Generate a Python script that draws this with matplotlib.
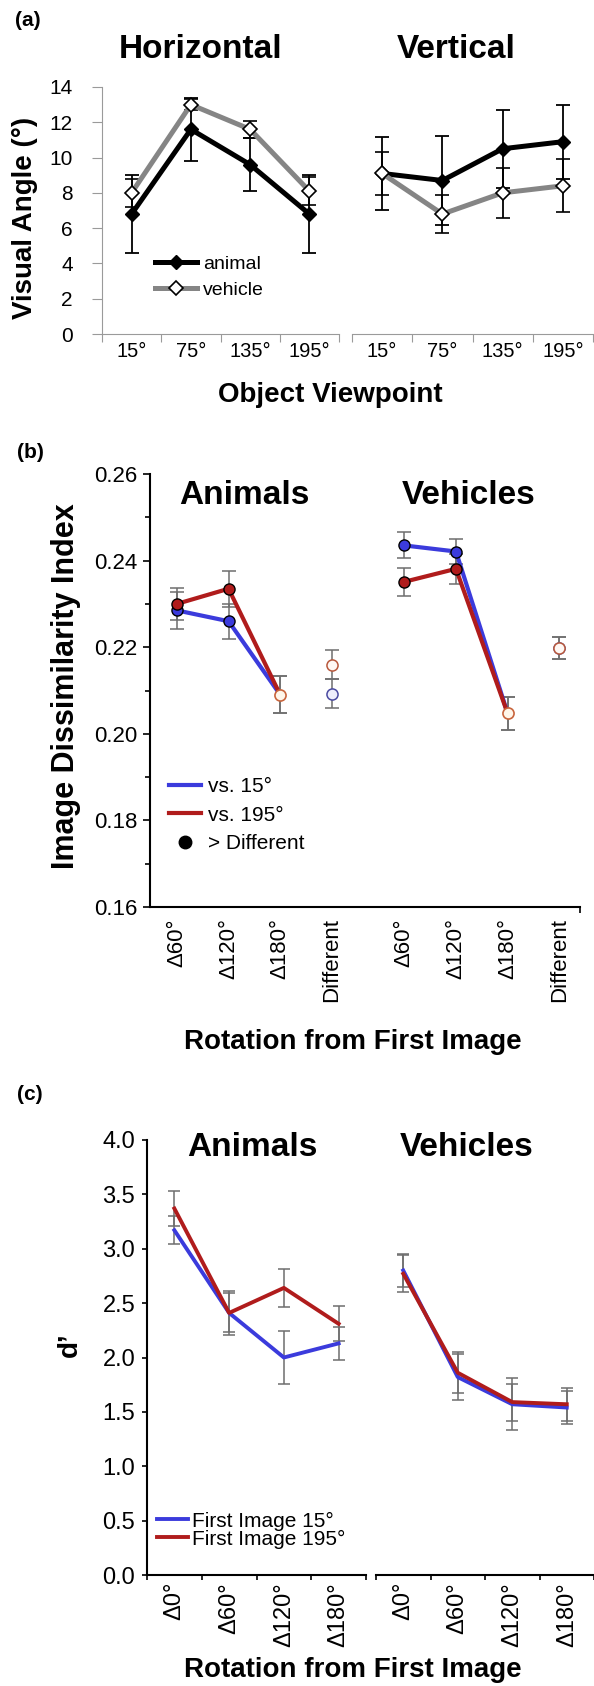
import numpy as np
import matplotlib
matplotlib.use('Agg')
import matplotlib.pyplot as plt
from matplotlib.lines import Line2D

plt.rcParams['font.family'] = ['Liberation Sans', 'DejaVu Sans']

# ---- data, panel (a): visual angle by viewpoint
viewpoints = ['15°', '75°', '135°', '195°']
horiz_animal = [6.8, 11.6, 9.6, 6.8]
horiz_animal_err = [2.2, 1.8, 1.5, 2.2]
horiz_vehicle = [8.0, 13.0, 11.6, 8.1]
horiz_vehicle_err = [0.8, 0.3, 0.5, 0.8]
vert_animal = [9.1, 8.7, 10.5, 10.9]
vert_animal_err = [2.05, 2.5, 2.2, 2.1]
vert_vehicle = [9.1, 6.8, 8.0, 8.4]
vert_vehicle_err = [1.2, 1.1, 1.4, 1.5]

# ---- data, panel (b): image dissimilarity index
b_labels = ['Δ60°', 'Δ120°', 'Δ180°', 'Different']
anim_vs15 = [0.2285, 0.226, 0.209, 0.2093]
anim_vs15_err = [0.0043, 0.004, 0.0043, 0.0033]
anim_vs195 = [0.230, 0.2335, 0.209, 0.216]
anim_vs195_err = [0.0037, 0.0042, 0.0043, 0.0034]
veh_vs15 = [0.2435, 0.2421, 0.2047, 0.2198]
veh_vs15_err = [0.003, 0.003, 0.0038, 0.0025]
veh_vs195 = [0.2351, 0.2381, 0.2047, 0.2198]
veh_vs195_err = [0.0033, 0.0034, 0.0038, 0.0025]

# ---- data, panel (c): d'
c_labels = ['Δ0°', 'Δ60°', 'Δ120°', 'Δ180°']
anim_first15 = [3.17, 2.41, 2.00, 2.13]
anim_first15_err = [0.13, 0.18, 0.24, 0.15]
anim_first195 = [3.37, 2.41, 2.64, 2.31]
anim_first195_err = [0.16, 0.20, 0.175, 0.16]
veh_first15 = [2.80, 1.82, 1.57, 1.54]
veh_first15_err = [0.15, 0.21, 0.24, 0.15]
veh_first195 = [2.77, 1.86, 1.59, 1.57]
veh_first195_err = [0.17, 0.19, 0.17, 0.15]

W, H = 594, 1686
BLUE = '#3b3bdc'
RED = '#b01c1c'
EGRAY = '#6e6e6e'
VGRAY = '#858585'

fig = plt.figure(figsize=(W / 100, H / 100), dpi=100)


def rect(x0, x1, ytop, ybot):
    return [x0 / W, 1 - ybot / H, (x1 - x0) / W, (ybot - ytop) / H]


def ftext(x, y, s, **kw):
    fig.text(x / W, 1 - y / H, s, **kw)


def boundary_ticks(ax, labels, size, pad, length):
    n = len(labels)
    ax.set_xlim(-0.5, n - 0.5)
    ax.set_xticks(np.arange(n + 1) - 0.5)
    ax.set_xticklabels([])
    ax.set_xticks(np.arange(n), minor=True)
    ax.set_xticklabels(labels, minor=True, fontsize=size)
    ax.tick_params(axis='x', which='major', direction='out', length=length)
    ax.tick_params(axis='x', which='minor', length=0, pad=pad)


# ================= panel (a)
axa1 = fig.add_axes(rect(102, 339, 87, 334))
axa2 = fig.add_axes(rect(352, 593, 87, 334), sharey=axa1)
xa = np.arange(len(viewpoints))
for ax, an, ane, ve, vee in [(axa1, horiz_animal, horiz_animal_err, horiz_vehicle, horiz_vehicle_err),
                             (axa2, vert_animal, vert_animal_err, vert_vehicle, vert_vehicle_err)]:
    ax.errorbar(xa, an, yerr=ane, color='black', lw=3.6, marker='D', ms=7.5,
                mfc='black', mec='black', ecolor='black', elinewidth=1.3, capsize=5, capthick=1.3,
                zorder=3)
    ax.errorbar(xa, ve, yerr=vee, color=VGRAY, lw=3.6, marker='D', ms=7.5,
                mfc='white', mec='black', mew=1.2, ecolor='black', elinewidth=1.3, capsize=5,
                capthick=1.3, zorder=4)
    boundary_ticks(ax, viewpoints, 14.5, 6, 6)
    for s in ['top', 'right']:
        ax.spines[s].set_visible(False)
    for s in ['left', 'bottom']:
        ax.spines[s].set_color('#9a9a9a')
    ax.tick_params(colors='#9a9a9a', labelcolor='black')
axa1.set_ylim(0, 14)
axa1.set_yticks(np.arange(0, 15, 2))
axa1.tick_params(axis='y', labelsize=15, length=7, pad=14)
axa2.spines['left'].set_visible(False)
axa2.tick_params(axis='y', left=False, labelleft=False)
ha = [Line2D([], [], color='black', lw=3.6, marker='D', ms=7.5, mfc='black', mec='black'),
      Line2D([], [], color=VGRAY, lw=3.6, marker='D', ms=7.5, mfc='white', mec='black', mew=1.2)]
axa1.legend(ha, ['animal', 'vehicle'], loc='center left', bbox_to_anchor=(0.222, 0.23),
            frameon=False, fontsize=14, handlelength=2.2, handletextpad=0.3, labelspacing=0.45,
            borderpad=0, borderaxespad=0)

ftext(15, 20, '(a)', fontsize=15, fontweight='bold', va='center', ha='left')
ftext(201, 50, 'Horizontal', fontsize=24, fontweight='bold', va='center', ha='center')
ftext(456, 50, 'Vertical', fontsize=24, fontweight='bold', va='center', ha='center')
ftext(25, 218, 'Visual Angle (°)', fontsize=20, fontweight='bold', va='center', ha='center',
      rotation=90)
ftext(330, 395, 'Object Viewpoint', fontsize=20, fontweight='bold', va='center', ha='center')

# ================= panel (b)
axb = fig.add_axes(rect(150, 580, 474, 907))
xb_anim = np.arange(len(b_labels))
xb_veh = xb_anim + 4.4
for xs, v15, e15, v195, e195 in [(xb_anim, anim_vs15, anim_vs15_err, anim_vs195, anim_vs195_err),
                                 (xb_veh, veh_vs15, veh_vs15_err, veh_vs195, veh_vs195_err)]:
    for vals, errs, col in [(v15, e15, BLUE), (v195, e195, RED)]:
        axb.errorbar(xs, vals, yerr=errs, fmt='none', ecolor=EGRAY, elinewidth=1.1,
                     capsize=5, capthick=1.1, zorder=2)
        axb.plot(xs[:3], vals[:3], color=col, lw=3, zorder=3)
        axb.plot(xs[:2], vals[:2], 'o', ms=8, mfc=col, mec='black', mew=1, zorder=5)
    axb.plot(xs[2], v195[2], 'o', ms=8, mfc='#fff6ea', mec='#c8643c', mew=1.2, zorder=5)
    axb.plot(xs[3], v15[3], 'o', ms=8, mfc='#eeeefc', mec='#4a4aa0', mew=1.1, zorder=5)
    axb.plot(xs[3], v195[3], 'o', ms=8, mfc='#fff8f4', mec='#b8583c', mew=1.1, zorder=6)
axb.set_xlim(-0.52, 7.8)
axb.set_ylim(0.16, 0.26)
axb.set_yticks(np.arange(0.16, 0.2601, 0.02))
axb.set_yticklabels(['%.2f' % v for v in np.arange(0.16, 0.2601, 0.02)])
axb.set_yticks(np.arange(0.17, 0.26, 0.02), minor=True)
axb.tick_params(axis='y', which='major', labelsize=16, length=5, pad=4, width=1.2)
axb.tick_params(axis='y', which='minor', length=3.5, width=1.2)
axb.set_xticks(np.concatenate([xb_anim, xb_veh]))
axb.set_xticklabels(b_labels + b_labels, rotation=90, fontsize=16, va='top')
axb.tick_params(axis='x', which='major', length=0, pad=8)
axb.set_xticks([7.8], minor=True)
axb.tick_params(axis='x', which='minor', length=4, width=1.2)
for s in ['top', 'right']:
    axb.spines[s].set_visible(False)
for s in ['left', 'bottom']:
    axb.spines[s].set_linewidth(1.5)
hb = [Line2D([], [], color=BLUE, lw=3), Line2D([], [], color=RED, lw=3),
      Line2D([], [], ls='none', marker='o', ms=9, color='black')]
axb.legend(hb, ['vs. 15°', 'vs. 195°', '> Different'], loc='center left',
           bbox_to_anchor=(0.045, 0.212), frameon=False, fontsize=15, handlelength=1.5,
           handletextpad=0.35, labelspacing=0.45, borderpad=0, borderaxespad=0)

ftext(17, 452, '(b)', fontsize=15, fontweight='bold', va='center', ha='left')
ftext(244, 495, 'Animals', fontsize=24, fontweight='bold', va='center', ha='center')
ftext(469, 495, 'Vehicles', fontsize=24, fontweight='bold', va='center', ha='center')
ftext(66, 686, 'Image Dissimilarity Index', fontsize=22, fontweight='bold', va='center',
      ha='center', rotation=90)
ftext(353, 1042, 'Rotation from First Image', fontsize=20, fontweight='bold', va='center',
      ha='center')

# ================= panel (c)
axc1 = fig.add_axes(rect(147, 366, 1140, 1575))
axc2 = fig.add_axes(rect(376, 594, 1140, 1575), sharey=axc1)
xc = np.arange(len(c_labels))
for ax, v15, e15, v195, e195 in [(axc1, anim_first15, anim_first15_err, anim_first195, anim_first195_err),
                                 (axc2, veh_first15, veh_first15_err, veh_first195, veh_first195_err)]:
    ax.errorbar(xc, v15, yerr=e15, fmt='none', ecolor=EGRAY, elinewidth=1.1, capsize=4.5,
                capthick=1.1, zorder=2)
    ax.errorbar(xc, v195, yerr=e195, fmt='none', ecolor=EGRAY, elinewidth=1.1, capsize=4.5,
                capthick=1.1, zorder=2)
    ax.plot(xc, v15, color=BLUE, lw=2.8, label='First Image 15°', zorder=3)
    ax.plot(xc, v195, color=RED, lw=2.8, label='First Image 195°', zorder=4)
    boundary_ticks(ax, c_labels, 17, 5, 3.5)
    for lab in ax.get_xticklabels(minor=True):
        lab.set_rotation(90)
        lab.set_va('top')
    for s in ['top', 'right']:
        ax.spines[s].set_visible(False)
    for s in ['left', 'bottom']:
        ax.spines[s].set_linewidth(1.5)
    ax.tick_params(width=1.2)
axc1.set_ylim(0, 4)
axc1.set_yticks(np.arange(0, 4.01, 0.5))
axc1.set_yticklabels(['%.1f' % v for v in np.arange(0, 4.01, 0.5)])
axc1.tick_params(axis='y', labelsize=17, length=3.5, pad=5)
axc2.spines['left'].set_visible(False)
axc2.tick_params(axis='y', left=False, labelleft=False)
axc1.legend(loc='center left', bbox_to_anchor=(0.045, 0.103), frameon=False, fontsize=15,
            handlelength=1.5, handletextpad=0.2, labelspacing=-0.05, borderpad=0,
            borderaxespad=0)

ftext(17, 1095, '(c)', fontsize=15, fontweight='bold', va='center', ha='left')
ftext(252, 1148, 'Animals', fontsize=24, fontweight='bold', va='center', ha='center')
ftext(467, 1148, 'Vehicles', fontsize=24, fontweight='bold', va='center', ha='center')
ftext(70, 1345, 'd’', fontsize=20, fontweight='bold', va='center', ha='center', rotation=90)
ftext(353, 1670, 'Rotation from First Image', fontsize=20, fontweight='bold', va='center',
      ha='center')

fig.savefig('out.png', dpi=100)
